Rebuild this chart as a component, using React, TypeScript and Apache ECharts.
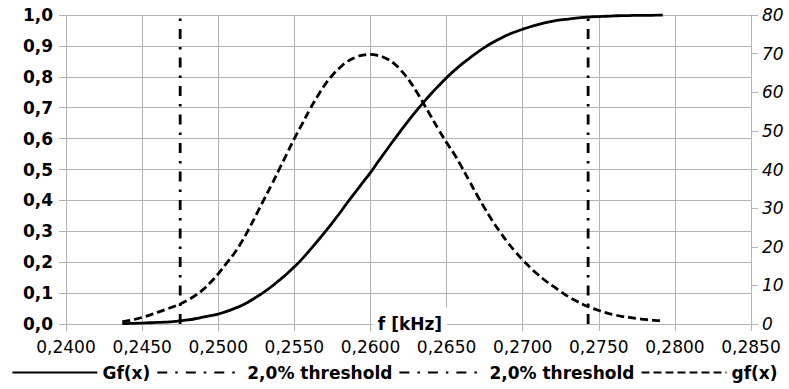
import React, { useEffect, useRef } from "react";
import * as echarts from "echarts";

const freq = [
  0.2437, 0.2440, 0.2445, 0.2450, 0.2455, 0.2460, 0.2465, 0.2470, 0.2475, 0.2480,
  0.2485, 0.2490, 0.2495, 0.2500, 0.2505, 0.2510, 0.2515, 0.2520, 0.2525, 0.2530,
  0.2535, 0.2540, 0.2545, 0.2550, 0.2555, 0.2560, 0.2565, 0.2570, 0.2575, 0.2580,
  0.2585, 0.2590, 0.2595, 0.2600, 0.2605, 0.2610, 0.2615, 0.2620, 0.2625, 0.2630,
  0.2635, 0.2640, 0.2645, 0.2650, 0.2655, 0.2660, 0.2665, 0.2670, 0.2675, 0.2680,
  0.2685, 0.2690, 0.2695, 0.2700, 0.2705, 0.2710, 0.2715, 0.2720, 0.2725, 0.2730,
  0.2735, 0.2740, 0.2745, 0.2750, 0.2755, 0.2760, 0.2765, 0.2770, 0.2775, 0.2780,
  0.2785, 0.2790, 0.2792,
];

// Gf(x) — cumulative, left axis
const GfValues = [
  0.001, 0.0015, 0.002, 0.003, 0.004, 0.005, 0.006, 0.008, 0.010, 0.013,
  0.017, 0.022, 0.027, 0.032, 0.040, 0.049, 0.059, 0.072, 0.087, 0.103,
  0.121, 0.141, 0.162, 0.185, 0.210, 0.238, 0.267, 0.297, 0.328, 0.360,
  0.394, 0.426, 0.458, 0.490, 0.525, 0.559, 0.593, 0.626, 0.658, 0.689,
  0.718, 0.746, 0.772, 0.797, 0.820, 0.841, 0.860, 0.878, 0.895, 0.910,
  0.923, 0.935, 0.945, 0.954, 0.962, 0.969, 0.975, 0.980, 0.984, 0.987,
  0.990, 0.992, 0.994, 0.995, 0.996, 0.997, 0.998, 0.998, 0.999, 0.999,
  0.999, 1.000, 1.000,
];

// gf(x) — density, right axis
const gfValues = [
  0.6, 0.8, 1.2, 1.7, 2.3, 3.0, 3.7, 4.4, 5.2, 6.2,
  7.4, 8.9, 10.8, 13.0, 15.5, 18.0, 21.0, 24.5, 28.3, 32.2,
  36.0, 40.0, 44.0, 48.0, 51.7, 55.4, 58.8, 61.9, 64.4, 66.4,
  68.0, 69.0, 69.6, 69.8, 69.5, 68.8, 67.6, 65.7, 63.3, 60.3,
  57.0, 53.6, 50.2, 47.0, 44.0, 40.6, 37.0, 33.4, 30.0, 26.8,
  23.9, 21.2, 18.8, 16.6, 14.6, 12.8, 11.2, 9.8, 8.4, 7.1,
  6.0, 5.0, 4.2, 3.5, 2.9, 2.4, 2.0, 1.7, 1.4, 1.2,
  1.0, 0.85, 0.8,
];

const thresholdLow = 0.2475;
const thresholdHigh = 0.2743;
const thresholdSpan = [0, 1];

const legendLabels: Record<string, string> = {
  "Gf(x)": "Gf(x)",
  thrLow: "2,0% threshold",
  thrHigh: "2,0% threshold",
  "gf(x)": "gf(x)",
};

const FONT = "DejaVu Sans";
const GRID_COLOR = "#b3b3b3";

export default function App() {
  const ref = useRef<HTMLDivElement>(null);

  useEffect(() => {
    document.body.style.margin = "0";
    if (!ref.current) return;
    const chart = echarts.init(ref.current, undefined, { renderer: "svg" });
    const gridLine = { lineStyle: { color: GRID_COLOR, width: 1 } };
    const dashDot = [10, 8, 2.5, 8];

    chart.setOption({
      animation: false,
      backgroundColor: "#ffffff",
      textStyle: { fontFamily: FONT, color: "#000" },
      grid: { left: 66, right: 38, top: 15, bottom: 65, containLabel: false },
      legend: {
        bottom: 3,
        left: "center",
        itemWidth: 85,
        itemHeight: 14,
        itemGap: 6,
        data: ["Gf(x)", "thrLow", "thrHigh", "gf(x)"],
        formatter: (name: string) => legendLabels[name] ?? name,
        itemStyle: { opacity: 0 },
        textStyle: { fontFamily: FONT, fontSize: 17, fontWeight: "bold", color: "#000" },
      },
      xAxis: {
        type: "value",
        min: 0.24,
        max: 0.285,
        interval: 0.005,
        axisLine: { show: true, onZero: false, ...gridLine },
        axisTick: { show: true, length: 7, ...gridLine },
        splitLine: { show: true, ...gridLine },
        axisLabel: {
          fontFamily: FONT,
          fontSize: 17,
          color: "#000",
          margin: 14,
          formatter: (v: number) => v.toFixed(4).replace(".", ","),
        },
      },
      yAxis: [
        {
          type: "value",
          min: 0,
          max: 1,
          interval: 0.1,
          axisLine: { show: true, ...gridLine },
          axisTick: { show: true, length: 7, ...gridLine },
          splitLine: { show: true, ...gridLine },
          axisLabel: {
            fontFamily: FONT,
            fontSize: 17,
            fontWeight: "bold",
            color: "#000",
            margin: 13,
            formatter: (v: number) => v.toFixed(1).replace(".", ","),
          },
        },
        {
          type: "value",
          position: "right",
          min: 0,
          max: 80,
          interval: 10,
          axisLine: { show: true, ...gridLine },
          axisTick: { show: true, length: 7, ...gridLine },
          splitLine: { show: false },
          axisLabel: {
            fontFamily: FONT,
            fontSize: 17,
            fontStyle: "italic",
            color: "#000",
            margin: 11,
          },
        },
      ],
      graphic: [
        {
          type: "text",
          x: 410,
          y: 324,
          z: 100,
          style: {
            text: "f [kHz]",
            font: `bold 17px "${FONT}"`,
            fill: "#000",
            align: "center",
            verticalAlign: "middle",
            backgroundColor: "#ffffff",
            padding: [8, 5],
          },
        },
      ],
      series: [
        {
          name: "Gf(x)",
          type: "line",
          yAxisIndex: 0,
          symbol: "none",
          smooth: true,
          data: freq.map((f, i) => [f, GfValues[i]]),
          lineStyle: { color: "#000", width: 2.8, type: "solid" },
          itemStyle: { color: "#000" },
          z: 3,
        },
        {
          name: "thrLow",
          type: "line",
          yAxisIndex: 0,
          symbol: "none",
          data: thresholdSpan.map((v) => [thresholdLow, v]),
          lineStyle: { color: "#000", width: 2.8, type: dashDot },
          itemStyle: { color: "#000" },
          z: 3,
        },
        {
          name: "thrHigh",
          type: "line",
          yAxisIndex: 0,
          symbol: "none",
          data: thresholdSpan.map((v) => [thresholdHigh, v]),
          lineStyle: { color: "#000", width: 2.8, type: dashDot },
          itemStyle: { color: "#000" },
          z: 3,
        },
        {
          name: "gf(x)",
          type: "line",
          yAxisIndex: 1,
          symbol: "none",
          smooth: true,
          data: freq.map((f, i) => [f, gfValues[i]]),
          lineStyle: { color: "#000", width: 2.8, type: [8, 4] },
          itemStyle: { color: "#000" },
          z: 3,
        },
      ],
    });

    return () => chart.dispose();
  }, []);

  return <div ref={ref} style={{ width: 789, height: 389 }} />;
}
